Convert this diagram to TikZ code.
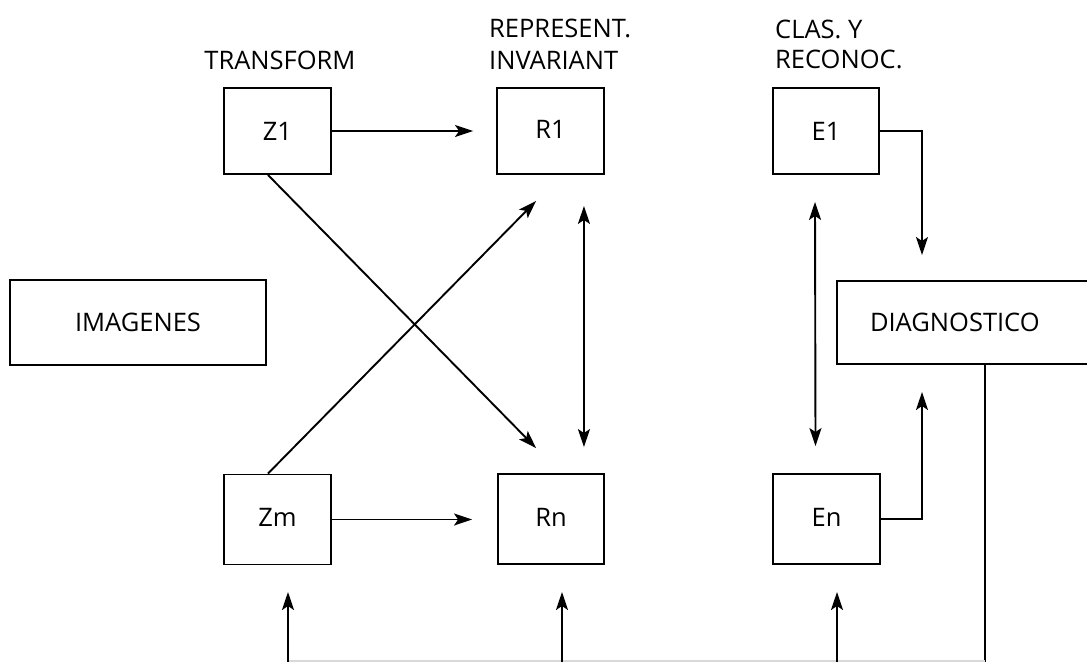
\documentclass[tikz,border=0pt]{standalone}
\usepackage{fontspec}
\setmainfont{Open Sans}
\usetikzlibrary{arrows.meta,calc}

\tikzset{
  box/.style={draw, line width=1.9pt, inner sep=0pt, font=\fontsize{25.5}{30}\selectfont},
  heading/.style={inner sep=0pt, font=\fontsize{25.5}{30}\selectfont},
  tip/.tip={Stealth[length=18pt,width=12pt,inset=4pt]},
  conn/.style={line width=1.9pt, -tip},
  dconn/.style={line width=1.9pt, tip-tip},
  plain/.style={line width=1.9pt},
}
\newcommand{\lifted}[1]{\raisebox{4pt}{#1}}

\begin{document}
\begin{tikzpicture}[x=1pt,y=-1pt]
\useasboundingbox (0,0) rectangle (1087,662);
\clip (0,0) rectangle (1087,662);

% column headings
\node[heading, anchor=base] (hT) at (280,69) {TRANSFORM};
\node[heading, anchor=base west] (hR1) at (489,37) {REPRESENT.};
\node[heading, anchor=base west] (hR2) at (489,69) {INVARIANT};
\node[heading, anchor=base west] (hC1) at (775,38) {CLAS. Y};
\node[heading, anchor=base west] (hC2) at (775,68) {RECONOC.};

% processing blocks
\node[box, minimum width=107pt, minimum height=86pt] (Z1) at (277.5,131) {Z1};
\node[box, minimum width=107pt, minimum height=86pt] (R1) at (550.5,131) {\lifted{R1}};
\node[box, minimum width=106pt, minimum height=86pt] (E1) at (826,131) {E1};
\node[box, minimum width=107pt, minimum height=90pt] (Zm) at (277.5,519.5) {\lifted{Zm}};
\node[box, minimum width=106pt, minimum height=90pt] (Rn) at (551,519) {\lifted{Rn}};
\node[box, minimum width=107pt, minimum height=90pt] (En) at (826.5,519) {\lifted{En}};
\node[box, minimum width=256pt, minimum height=85pt] (IM) at (138,322.5) {IMAGENES};
\node[box, minimum width=264pt, minimum height=83pt, text width=264pt, align=left] (DG) at (969,322.5) {\hspace*{33pt}DIAGNOSTICO};

% anchor points for the crossing links
\coordinate (z1b) at ($(Z1.south)+(-9.5,0)$);
\coordinate (zmt) at ($(Zm.north)+(-9.5,0)$);
\coordinate (r1in) at ($(R1.south west)+(40,26)$);
\coordinate (rnin) at ($(Rn.north west)+(39,-25)$);

% straight transforms
\draw[conn, shorten >=23pt] (Z1.east) -- (Z1.east -| R1.west);
\draw[conn, shorten >=25pt] (Zm.east) -- (Zm.east -| Rn.west);

% crossing links
\draw[conn] (z1b) -- (rnin);
\draw[conn] (zmt) -- (r1in);

% two-way links between the rows
\coordinate (r1d) at ($(R1.south east)+(-21,31)$);
\coordinate (rnu) at ($(Rn.north east)+(-21,-26)$);
\draw[dconn] (r1d) -- (rnu);
\coordinate (e1d) at ($(E1.south)+(-11,27)$);
\coordinate (enu) at ($(En.north)+(-11,-27)$);
\draw[dconn] (e1d) -- (enu);

% classifiers into the diagnosis
\coordinate (dgin1) at (922,255);
\coordinate (dgin2) at (922,392);
\draw[conn] (E1.east) -| (dgin1);
\draw[conn] (En.east) -| (dgin2);

% feedback from the diagnosis
\coordinate (fbR) at (985,662);
\coordinate (fbL) at (288,661);
\coordinate (fbE) at (985,661);
\draw[plain] (DG.south -| fbR) -- (fbR);
\draw[gray!30, line width=1.2pt] (fbL) -- (fbE);
\coordinate (up1) at (288,592);
\coordinate (up2) at (562,592);
\coordinate (up3) at (837,592);
\coordinate (lo1) at (288,662);
\coordinate (lo2) at (562,662);
\coordinate (lo3) at (837,662);
\draw[conn] (lo1) -- (up1);
\draw[conn] (lo2) -- (up2);
\draw[conn] (lo3) -- (up3);
\end{tikzpicture}
\end{document}
